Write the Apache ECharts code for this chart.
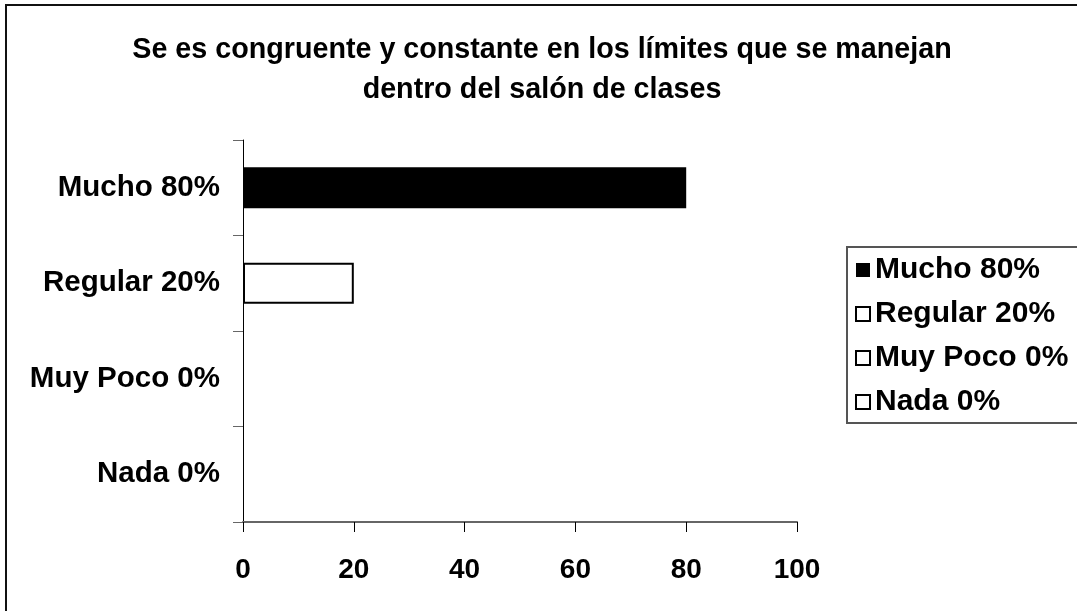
<!DOCTYPE html>
<html>
<head>
<meta charset="utf-8">
<script src="https://cdn.jsdelivr.net/npm/echarts@6/dist/echarts.min.js"></script>
<style>
  html, body { margin: 0; padding: 0; background: #fff; }
  #chart { width: 1077px; height: 611px; }
</style>
</head>
<body>
<div id="chart"></div>
<script>
// Survey answers: one bar per answer, top to bottom
const categories = ['Mucho 80%', 'Regular 20%', 'Muy Poco 0%', 'Nada 0%'];
const values = [80, 20, 0, 0];
const fillColors = ['#000000', '#ffffff', '#ffffff', '#ffffff'];
const xTicks = [0, 20, 40, 60, 80, 100];

const FONT = '"Liberation Sans", Arial, sans-serif';

// each answer is its own series so the legend lists all four
const series = categories.map((name, i) => ({
  name: name,
  type: 'bar',
  barWidth: 41,
  barGap: '-100%',
  data: categories.map((c, j) => {
    if (j !== i) return '-';
    // empty bars get no outline so nothing is drawn on the axis
    return values[i] === 0 ? { value: 0, itemStyle: { borderWidth: 0 } } : values[i];
  }),
  itemStyle: {
    color: fillColors[i],
    borderColor: '#000',
    borderWidth: fillColors[i] === '#000000' ? 0 : 2
  },
  emphasis: { disabled: true }
}));

const chart = echarts.init(document.getElementById('chart'), null, { renderer: 'canvas' });
chart.setOption({
  animation: false,
  backgroundColor: '#fff',
  title: {
    text: 'Se es congruente y constante en los límites que se manejan\ndentro del salón de clases',
    left: 537,
    textAlign: 'center',
    top: 25,
    textStyle: {
      fontFamily: FONT,
      fontWeight: 'bold',
      fontSize: 28.7,
      lineHeight: 40,
      color: '#000'
    }
  },
  legend: {
    orient: 'vertical',
    left: 847,
    top: 247,
    padding: [8, 40, 6, 8],
    itemGap: 14,
    itemWidth: 14,
    itemHeight: 14,
    icon: 'rect',
    borderColor: '#555',
    borderWidth: 2,
    selectedMode: false,
    data: categories,
    textStyle: {
      fontFamily: FONT,
      fontWeight: 'bold',
      fontSize: 30,
      lineHeight: 30,
      color: '#000',
      padding: [0, 0, 0, 0]
    }
  },
  grid: {
    left: 243,
    right: 280,
    top: 140,
    bottom: 89,
    containLabel: false
  },
  xAxis: {
    type: 'value',
    min: xTicks[0],
    max: xTicks[xTicks.length - 1],
    interval: xTicks[1] - xTicks[0],
    splitLine: { show: false },
    axisLine: { show: true, lineStyle: { color: '#666', width: 2 } },
    axisTick: { show: true, length: 10, lineStyle: { color: '#000', width: 1 } },
    axisLabel: {
      margin: 34,
      fontFamily: FONT,
      fontWeight: 'bold',
      fontSize: 28,
      color: '#000'
    }
  },
  yAxis: {
    type: 'category',
    inverse: true,
    data: categories,
    axisLine: { show: true, lineStyle: { color: '#000', width: 1 } },
    axisTick: { show: true, length: 10, inside: false, lineStyle: { color: '#666', width: 1 } },
    axisLabel: {
      margin: 23,
      fontFamily: FONT,
      fontWeight: 'bold',
      fontSize: 29.5,
      color: '#000'
    }
  },
  graphic: [{
    type: 'rect',
    shape: { x: 6, y: 5, width: 1200, height: 800 },
    style: { fill: null, stroke: '#111', lineWidth: 2 },
    silent: true,
    z: 100
  }],
  series: series
});
</script>
</body>
</html>
